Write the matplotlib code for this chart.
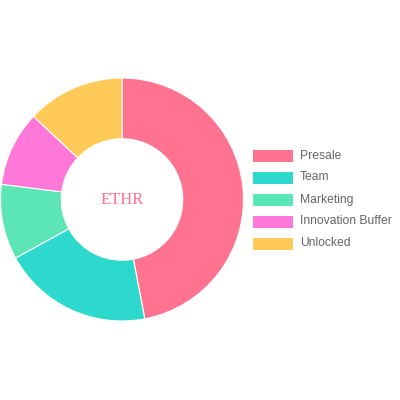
import matplotlib
matplotlib.use("Agg")
from matplotlib import pyplot as plt
from matplotlib.patches import Rectangle

labels = ["Presale", "Team", "Marketing", "Innovation Buffer", "Unlocked"]
values = [47, 20, 10, 10, 13]
colors = ["#FF7390", "#2DD8CC", "#5CE5B5", "#FF77D8", "#FFCA58"]
center_text = "ETHR"

W, H = 400, 400
fig = plt.figure(figsize=(4, 4), dpi=100)

# donut: centre (122,200) px, radius ~121.5 px
cx, cy, r = 122, 199.5, 121.5
ax = fig.add_axes([(cx - r) / W, (H - cy - r) / H, 2 * r / W, 2 * r / H])
ax.pie(values, colors=colors, startangle=90, counterclock=False, radius=1,
       wedgeprops=dict(width=0.5, edgecolor="white", linewidth=0.8))
ax.set_xlim(-1, 1)
ax.set_ylim(-1, 1)
ax.set_aspect("equal")
ax.axis("off")
ax.text(0, 0.0, center_text, ha="center", va="center", color="#FF7390",
        fontsize=12, family="Liberation Serif")

# legend drawn by hand to match layout
for i, (lab, col) in enumerate(zip(labels, colors)):
    yc = 155.5 + 22 * i
    fig.add_artist(Rectangle((253 / W, (H - yc - 6) / H), 40 / W, 12 / H,
                             transform=fig.transFigure, facecolor=col, edgecolor="none"))
    fig.text(300 / W, (H - yc) / H, lab, ha="left", va="center", color="#666666",
             fontsize=8.7, family="Liberation Sans")

fig.savefig("out.png", dpi=100)
